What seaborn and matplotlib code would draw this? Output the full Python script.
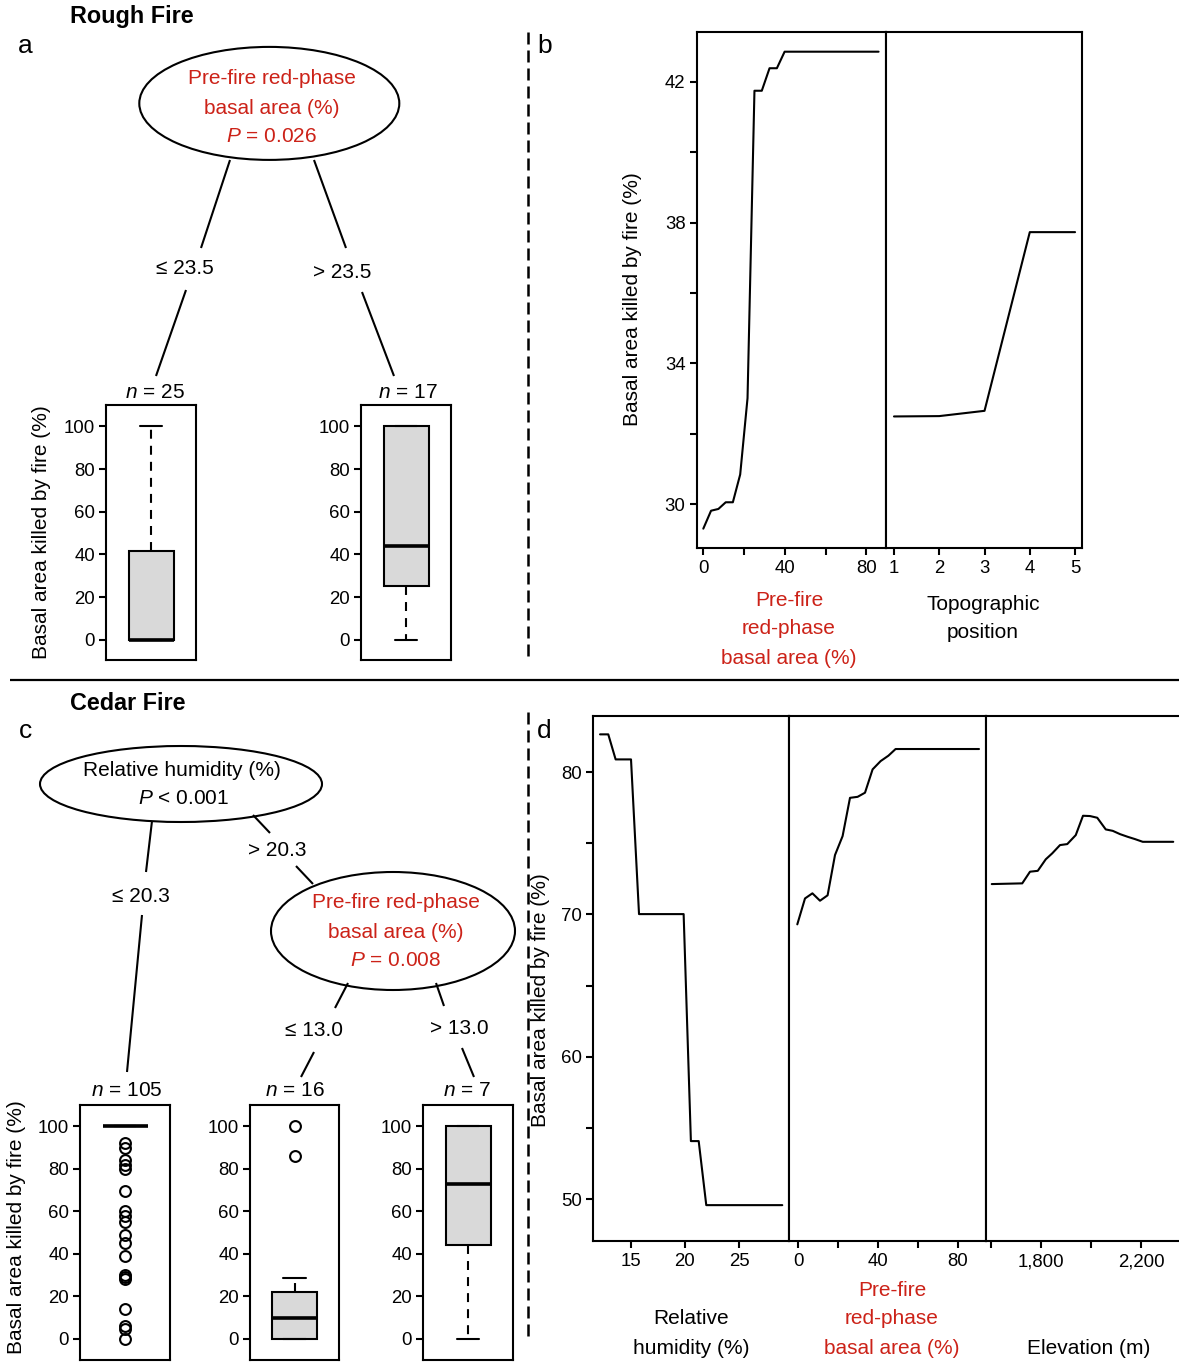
import numpy as np
import pandas as pd
import matplotlib
matplotlib.use("Agg")
import matplotlib.pyplot as plt
import seaborn as sns
from matplotlib.patches import Ellipse

# ---------------- data ----------------
# Rough Fire regression-tree terminal nodes (box statistics)
rough_n = [25, 17]
rough_whislo = [0, 0]
rough_q1 = [0, 25]
rough_med = [0, 44]
rough_q3 = [41.5, 100]
rough_whishi = [100, 100]
rough_fliers = [[], []]

# Cedar Fire terminal nodes
cedar_n = [105, 16, 7]
cedar_whislo = [100, 0, 0]
cedar_q1 = [100, 0, 44]
cedar_med = [100, 10, 73]
cedar_q3 = [100, 22, 100]
cedar_whishi = [100, 28.5, 100]
cedar_fliers = [[92, 90, 84, 82, 80, 69.7, 60, 58, 55, 49, 45, 39, 30, 29, 28, 14, 6, 4.4, 0],
                [100, 86], []]

# Panel b partial dependence (Rough Fire)
b_redphase_x = [0, 3.8, 7.4, 11.0, 14.5, 18.1, 21.7, 25.1, 28.7, 32.5, 36.1, 39.9, 86]
b_redphase_y = [29.30, 29.81, 29.86, 30.05, 30.05, 30.84, 33.01, 41.75, 41.75, 42.39, 42.39, 42.86, 42.86]
b_topo_x = [1, 2, 3, 4, 5]
b_topo_y = [32.49, 32.50, 32.65, 37.73, 37.73]

# Panel d partial dependence (Cedar Fire)
d_rh_x = [12.17, 12.93, 13.61, 15.03, 15.77, 19.89, 20.56, 21.28, 21.98, 29.0]
d_rh_y = [82.65, 82.65, 80.89, 80.89, 70.02, 70.02, 54.07, 54.07, 49.57, 49.57]
d_redphase_x = [-0.35, 3.5, 7.2, 11, 14.8, 18.5, 22.3, 26, 29.8, 33.5, 37.3, 41.3, 45.2, 48.8, 90.5]
d_redphase_y = [69.30, 71.12, 71.48, 70.96, 71.34, 74.17, 75.50, 78.19, 78.26, 78.55, 80.19,
                80.77, 81.15, 81.62, 81.62]
d_elev_x = [1603, 1725, 1756, 1787, 1819, 1845, 1876, 1905, 1939, 1968, 1996, 2025, 2059, 2087,
            2116, 2147, 2176, 2207, 2329]
d_elev_y = [72.13, 72.18, 73.00, 73.06, 73.87, 74.29, 74.87, 74.94, 75.57, 76.93, 76.91, 76.79,
            75.97, 75.87, 75.64, 75.45, 75.29, 75.10, 75.10]

RED = "#CC2218"

# ---------------- style ----------------
sns.set_style("ticks")
plt.rcParams["font.family"] = ["Liberation Sans", "DejaVu Sans"]
plt.rcParams.update({
    "mathtext.fontset": "custom",
    "mathtext.rm": "Liberation Sans",
    "mathtext.it": "Liberation Sans:italic",
    "axes.edgecolor": "black",
    "axes.linewidth": 1.5,
    "xtick.color": "black",
    "ytick.color": "black",
    "text.color": "black",
    "axes.labelcolor": "black",
    "xtick.major.width": 1.5,
    "ytick.major.width": 1.5,
    "xtick.major.size": 5,
    "ytick.major.size": 5,
    "xtick.labelsize": 13.4,
    "ytick.labelsize": 13.4,
    "xtick.major.pad": 4,
    "ytick.major.pad": 3,
})

W, H = 1179, 1363
fig = plt.figure(figsize=(W / 100, H / 100), dpi=100)


def pos(x0, y0, x1, y1):
    return [x0 / W, 1 - y1 / H, (x1 - x0) / W, (y1 - y0) / H]


# overlay for tree diagram and text
ov = fig.add_axes([0, 0, 1, 1])
ov.set_xlim(0, W)
ov.set_ylim(H, 0)
ov.axis("off")

FS = 15


def txt(x, y, s, color="black", size=FS, **kw):
    ov.text(x, y, s, color=color, fontsize=size, ha=kw.pop("ha", "center"),
            va=kw.pop("va", "center"), **kw)


def seg(x0, y0, x1, y1, **kw):
    ov.plot([x0, x1], [y0, y1], color="black", lw=kw.pop("lw", 1.5), solid_capstyle="butt", **kw)


# titles and panel letters
txt(70, 16, "Rough Fire", size=16.8, ha="left", fontweight="bold")
txt(70, 704, "Cedar Fire", size=16.8, ha="left", fontweight="bold")
txt(18, 46, "a", size=19, ha="left")
txt(537, 46, "b", size=19, ha="left")
txt(19, 731, "c", size=19, ha="left")
txt(537, 731, "d", size=19, ha="left")

# separators
seg(10, 680, 1179, 680, lw=1.6)
seg(528, 32, 528, 660, lw=1.8, linestyle=(0, (4.8, 2.4)))
seg(528, 712, 528, 1340, lw=1.8, linestyle=(0, (4.8, 2.4)))

# tree a
ov.add_patch(Ellipse((269.3, 103.4), 260, 113, fill=False, lw=1.5, ec="black"))
txt(272, 78, "Pre-fire red-phase", color=RED)
txt(272, 108, "basal area (%)", color=RED)
txt(272, 137, "$P$ = 0.026", color=RED)
seg(230, 160, 201, 248)
seg(186, 290, 156, 376)
seg(314, 160, 346, 248)
seg(362, 292, 394, 376)
txt(185, 269, "≤ 23.5")
txt(342, 272, "> 23.5")
txt(155, 392, f"$n$ = {rough_n[0]}")
txt(408, 392, f"$n$ = {rough_n[1]}")

# tree c
ov.add_patch(Ellipse((181, 784), 282, 76, fill=False, lw=1.5, ec="black"))
txt(182, 770, "Relative humidity (%)")
txt(183, 798, "$P$ < 0.001")
seg(152, 821, 146, 872)
seg(142, 915, 127, 1072)
seg(253, 815, 270, 833)
seg(296, 866, 313, 884)
txt(141, 896, "≤ 20.3")
txt(277, 850, "> 20.3")
ov.add_patch(Ellipse((393, 931), 244, 118, fill=False, lw=1.5, ec="black"))
txt(396, 903, "Pre-fire red-phase", color=RED)
txt(396, 932, "basal area (%)", color=RED)
txt(396, 961, "$P$ = 0.008", color=RED)
seg(348, 983, 335, 1008)
seg(314, 1052, 301, 1077)
seg(436, 983, 444, 1006)
seg(462, 1048, 474, 1077)
txt(314, 1031, "≤ 13.0")
txt(459, 1028, "> 13.0")
txt(127, 1091, f"$n$ = {cedar_n[0]}")
txt(295, 1091, f"$n$ = {cedar_n[1]}")
txt(467, 1091, f"$n$ = {cedar_n[2]}")

# y labels
YL = "Basal area killed by fire (%)"
txt(42, 532, YL, rotation=90)
txt(17, 1227, YL, rotation=90)
txt(632, 299, YL, rotation=90)
txt(541, 1000, YL, rotation=90)

# x labels of partial dependence panels
txt(789, 600, "Pre-fire", color=RED)
txt(789, 629, "red-phase", color=RED)
txt(789, 658, "basal area (%)", color=RED)
txt(983, 604, "Topographic")
txt(983, 632, "position")
txt(691, 1319, "Relative")
txt(691, 1348, "humidity (%)")
txt(892, 1290, "Pre-fire", color=RED)
txt(892, 1319, "red-phase", color=RED)
txt(892, 1348, "basal area (%)", color=RED)
txt(1089, 1348, "Elevation (m)")


# ---------------- box panels ----------------
def box_axes(rect, st, ylim):
    ax = fig.add_axes(pos(*rect))
    ax.bxp([st], positions=[1], widths=0.5, capwidths=0.25, patch_artist=True,
           boxprops=dict(facecolor="#D9D9D9", edgecolor="black", linewidth=1.5),
           medianprops=dict(color="black", linewidth=2.6, solid_capstyle="butt"),
           whiskerprops=dict(color="black", linewidth=1.5, linestyle=(0, (4.3, 3.4))),
           capprops=dict(color="black", linewidth=1.5),
           flierprops=dict(marker="o", markerfacecolor="none", markeredgecolor="black",
                           markersize=7.8, markeredgewidth=1.5, linestyle="none"))
    ax.set_xlim(0.5, 1.5)
    ax.set_ylim(*ylim)
    ax.set_xticks([])
    ax.set_yticks([0, 20, 40, 60, 80, 100])
    for s in ax.spines.values():
        s.set_visible(True)
        s.set_linewidth(1.5)
    return ax


def stats(i, whislo, q1, med, q3, whishi, fliers):
    return dict(whislo=whislo[i], q1=q1[i], med=med[i], q3=q3[i], whishi=whishi[i],
                fliers=fliers[i])


box_axes((106, 405, 196, 660), stats(0, rough_whislo, rough_q1, rough_med, rough_q3,
                                     rough_whishi, rough_fliers), (-9.5, 110))
box_axes((361, 405, 451, 660), stats(1, rough_whislo, rough_q1, rough_med, rough_q3,
                                     rough_whishi, rough_fliers), (-9.5, 110))
cedar_rects = [(80, 1105, 170, 1360), (250, 1105, 339, 1360), (423, 1105, 513, 1360)]
for i, r in enumerate(cedar_rects):
    box_axes(r, stats(i, cedar_whislo, cedar_q1, cedar_med, cedar_q3, cedar_whishi,
                      cedar_fliers), (-10, 110))


# ---------------- partial dependence panels ----------------
def pd_axes(rect, x, y, xlim, ylim, xticks, xlabels, yticks=None, ylabels=None):
    ax = fig.add_axes(pos(*rect))
    df = pd.DataFrame({"x": x, "y": y})
    sns.lineplot(data=df, x="x", y="y", ax=ax, color="black", linewidth=1.5,
                 estimator=None, sort=False)
    ax.set_xlim(*xlim)
    ax.set_ylim(*ylim)
    ax.set_xticks(xticks)
    ax.set_xticklabels(xlabels)
    if yticks is None:
        ax.set_yticks([])
    else:
        ax.set_yticks(yticks)
        ax.set_yticklabels(ylabels)
    ax.set_xlabel("")
    ax.set_ylabel("")
    for s in ax.spines.values():
        s.set_visible(True)
        s.set_linewidth(1.5)
    return ax


b_ylim = (28.75, 43.42)
pd_axes((696.7, 32, 885.7, 548), b_redphase_x, b_redphase_y, (-3.24, 89.5),
        b_ylim, [0, 20, 40, 60, 80], ["0", "", "40", "", "80"],
        [30, 32, 34, 36, 38, 40, 42], ["30", "", "34", "", "38", "", "42"])
pd_axes((885.7, 32, 1082.3, 548), b_topo_x, b_topo_y, (0.817, 5.16), b_ylim,
        [1, 2, 3, 4, 5], ["1", "2", "3", "4", "5"])

d_ylim = (47.05, 83.94)
pd_axes((593, 716, 789, 1241), d_rh_x, d_rh_y, (11.52, 29.62), d_ylim,
        [15, 20, 25], ["15", "20", "25"],
        [50, 55, 60, 65, 70, 75, 80], ["50", "", "60", "", "70", "", "80"])
pd_axes((789, 716, 986, 1241), d_redphase_x, d_redphase_y, (-4.5, 94), d_ylim,
        [0, 20, 40, 60, 80], ["0", "", "40", "", "80"])
pd_axes((986, 716, 1210, 1241), d_elev_x, d_elev_y, (1580, 2476), d_ylim,
        [1600, 1800, 2000, 2200], ["", "1,800", "", "2,200"])

fig.savefig("out.png", dpi=100)
